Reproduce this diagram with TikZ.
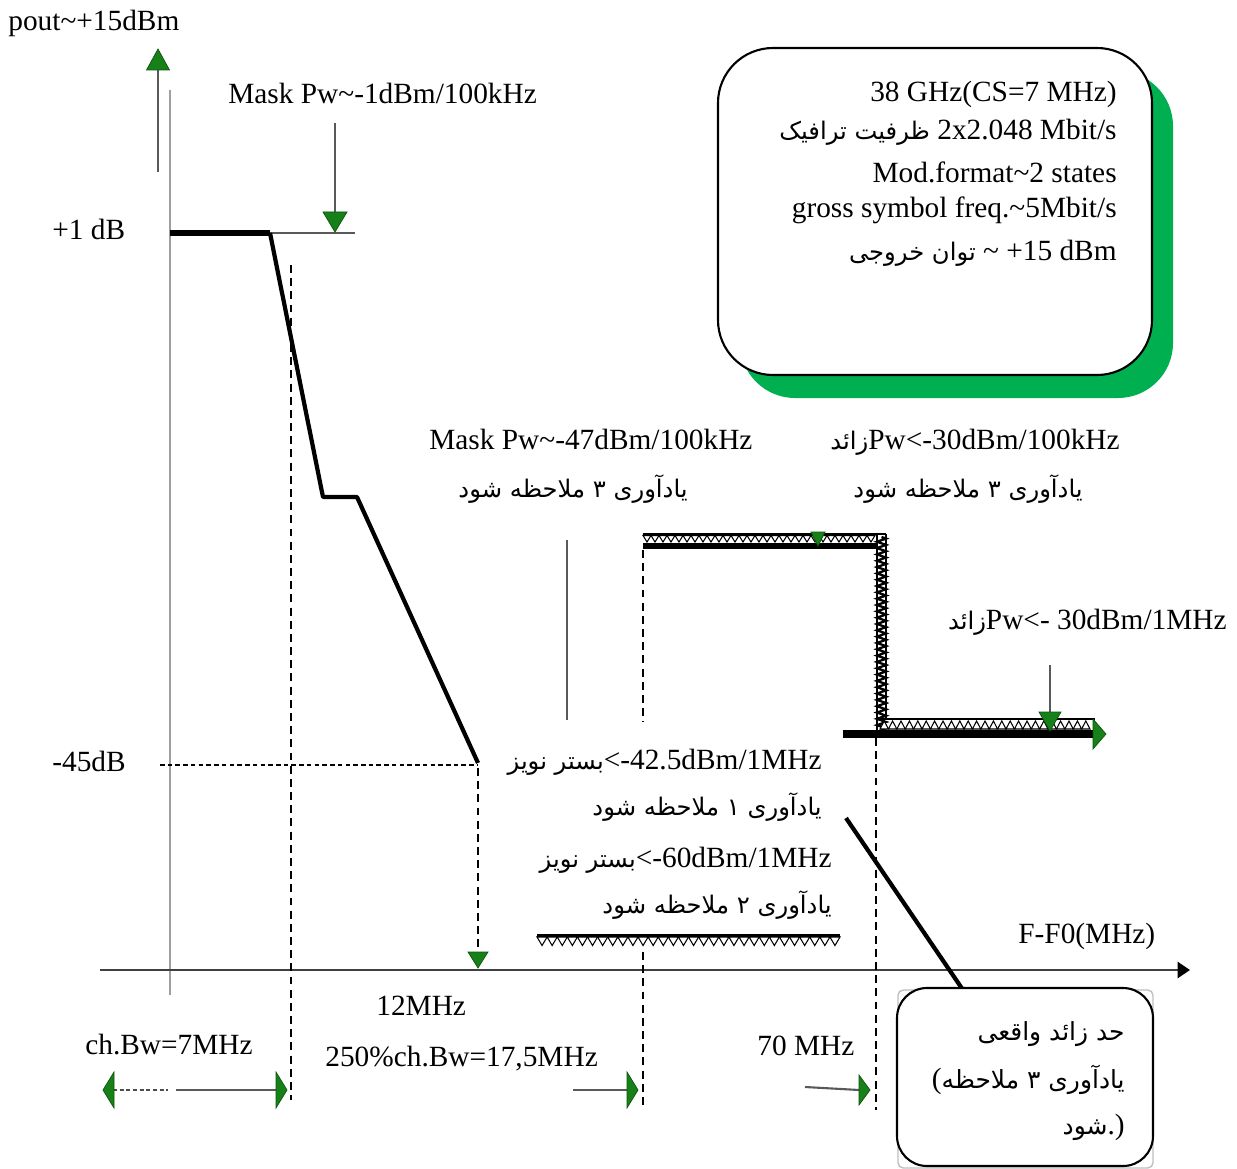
\documentclass[tikz,border=0pt]{standalone}
\usepackage{fontspec}
\setmainfont{Liberation Serif}
\newfontfamily\fa[Script=Arabic]{DejaVu Sans}
\TeXXeTstate=1
\usetikzlibrary{arrows.meta,decorations.pathmorphing}

\definecolor{mkgreen}{RGB}{24,128,24}
\definecolor{mkedge}{RGB}{10,85,10}
\definecolor{shadegreen}{RGB}{0,176,80}

\newcommand\latsize{\fontsize{16.7pt}{20pt}\selectfont}
\newcommand\fasize{\fontsize{13.8pt}{16pt}\selectfont}
\newcommand\fboxsize{\fontsize{14.2pt}{17pt}\selectfont}

% green triangular marker: tip position, rotation, base width, length
\newcommand\gtri[4]{%
  \begin{scope}[shift={#1},rotate=#2]
    \filldraw[fill=mkgreen,draw=mkedge,line width=0.4pt]
      (0,0) -- (-#3/2,-#4) -- (#3/2,-#4) -- cycle;
  \end{scope}}

\tikzset{
  lat/.style={font=\latsize,inner sep=0pt},
  fat/.style={font=\fa\fasize,inner sep=0pt},
  fbx/.style={font=\fa\fboxsize,inner sep=0pt},
  thinaxis/.style={draw=gray!75,line width=0.8pt},
  pointer/.style={draw=gray!70!black,line width=0.7pt},
  curve/.style={line width=2.4pt,line join=round},
  guide/.style={dash pattern=on 4.5pt off 3pt,line width=0.8pt},
  floorline/.style={dash pattern=on 2.6pt off 1.8pt,line width=1.1pt},
  xaxis/.style={draw=black!75,line width=1.6pt,-{Triangle[length=7pt,width=9pt,color=black]}},
  hatch/.style={line width=0.6pt,fill=white}
}

\begin{document}
\begin{tikzpicture}[x=0.02cm,y=-0.02cm]
\useasboundingbox (0,0) rectangle (1237,1169);

% ---- axes -------------------------------------------------------------
\coordinate (ytop) at (170,90);
\coordinate (ybot) at (170,995);
\draw[thinaxis] (ytop) -- (ybot);
\coordinate (xl) at (100,970);
\coordinate (xr) at (1190,970);
\draw[xaxis] (xl) -- (xr);

% output power arrow
\coordinate (pa0) at (158,172);
\coordinate (pa1) at (158,70);
\draw[pointer] (pa0) -- (pa1);
\gtri{(158,49)}{180}{23}{21}

% ---- spectrum mask curve ------------------------------------------------
\coordinate (c0) at (170,233);
\coordinate (c1) at (270,233);
\coordinate (c2) at (323,497);
\coordinate (c3) at (357,497);
\coordinate (c4) at (478,763);
\coordinate (c1r) at (355,233);
\draw[pointer] (c1) -- (c1r);
\draw[line width=3.4pt] (c0) -- (c1);
\draw[curve] (c1) -- (c2) -- (c3) -- (c4);

% +1 dB mask pointer
\coordinate (m0) at (335,123);
\coordinate (m1) at (335,213);
\draw[pointer] (m0) -- (m1);
\gtri{(335,232)}{0}{24}{20}

% -45 dB level
\coordinate (l45a) at (160,765);
\coordinate (l45b) at (478,765);
\draw[floorline] (l45a) -- (l45b);

% vertical guides
\draw[guide] (291,265) -- (291,1100);
\draw[guide] (478,768) -- (478,950);
\draw[guide] (643,550) -- (643,722);
\draw[guide] (643,952) -- (643,1110);
\draw[guide] (876,738) -- (876,1110);
\gtri{(478,968)}{0}{20}{16}

\coordinate (v0) at (567,540);
\coordinate (v1) at (567,720);
\draw[pointer] (v0) -- (v1);

% ---- spurious limits ----------------------------------------------------
% upper plateau
\draw[line width=0.9pt] (643,534) -- (886,534);
\foreach \i in {0,...,28}
  \draw[hatch] ({643+\i*8},535.5) -- ++(4,6.5) -- ++(4,-6.5) -- cycle;
\draw[line width=3.8pt] (643,546) -- (878,546);
\gtri{(818,546)}{0}{14}{14}
% falling edge
\draw[line width=1.2pt] (877,534) -- (877,733);
\draw[line width=1.3pt,decorate,decoration={zigzag,segment length=3.6pt,amplitude=2.6pt}]
  (881.5,537) -- (881.5,731);
\draw[line width=0.9pt] (886,534) -- (886,720);
% lower plateau
\coordinate (lp0) at (843,734);
\coordinate (lp1) at (1095,734);
\draw[line width=4.4pt] (lp0) -- (lp1);
\draw[line width=0.7pt] (880,719) -- (1095,719);
\foreach \i in {0,...,24}
  \draw[hatch] ({880+\i*8.4},729) -- ++(4.2,-8) -- ++(4.2,8) -- cycle;
\gtri{(1106,734)}{90}{30}{13}
\coordinate (sp0) at (1050,665);
\coordinate (sp1) at (1050,712);
\draw[pointer] (sp0) -- (sp1);
\gtri{(1050,731)}{0}{22}{19}

% noise floor bar
\draw[line width=1.6pt] (537,935.5) -- (840,935.5);
\foreach \i in {0,...,29}
  \draw[hatch] ({537+\i*10.1},937) -- ++(5.05,8.5) -- ++(5.05,-8.5) -- cycle;

% real spurious roll-off
\coordinate (r0) at (846,818);
\coordinate (r1) at (963,990);
\draw[curve] (r0) -- (r1);

% ---- bandwidth markers ----------------------------------------------------
\coordinate (b0) at (113,1090);
\coordinate (b1) at (168,1090);
\coordinate (b2) at (176,1090);
\coordinate (b3) at (276,1090);
\draw[draw=black!70,line width=1.6pt,dash pattern=on 2.2pt off 1.6pt] (b0) -- (b1);
\draw[pointer,line width=1.2pt] (b2) -- (b3);
\gtri{(103,1090)}{-90}{36}{11}
\gtri{(287,1090)}{90}{36}{11}
\coordinate (b4) at (573,1090);
\coordinate (b5) at (627,1090);
\draw[pointer,line width=1.2pt] (b4) -- (b5);
\gtri{(638,1090)}{90}{36}{11}
\coordinate (b6) at (805,1087);
\coordinate (b7) at (859,1090);
\draw[pointer,line width=1.2pt] (b6) -- (b7);
\gtri{(870,1090)}{90}{30}{11}

% ---- parameter box ------------------------------------------------------
\fill[shadegreen,rounded corners=1.1cm] (740,71) rectangle (1173,398);
\filldraw[fill=white,draw=black,line width=1.2pt,rounded corners=1.1cm]
  (718,48) rectangle (1152,375);
\node[lat,anchor=base east] (p1) at (1117,102) {38 GHz(CS=7 MHz)};
\node[lat,anchor=base east] (p2) at (1117,140)
  {{\fa\fasize\beginR ظرفیت ترافیک\endR} 2x2.048 Mbit/s};
\node[lat,anchor=base east] (p3) at (1117,183) {Mod.format\textasciitilde 2 states};
\node[lat,anchor=base east] (p4) at (1117,217) {gross symbol freq.\textasciitilde 5Mbit/s};
\node[lat,anchor=base east] (p5) at (1117,260)
  {{\fa\fasize\beginR توان خروجی\endR} \textasciitilde{} +15 dBm};

% ---- note box -------------------------------------------------------------
\draw[gray!50,line width=0.8pt,rounded corners=3pt] (898,990) rectangle (1153,1168);
\filldraw[fill=white,draw=black,line width=1.2pt,rounded corners=0.6cm]
  (897,988) rectangle (1153,1166);
\node[fbx,anchor=base east] (q1) at (1125,1040) {\beginR حد زائد واقعی\endR};
\node[fbx,anchor=base east] (q2) at (1125,1088)
  {{\rmfamily\latsize(}\beginR یادآوری ۳ ملاحظه\endR};
\node[fbx,anchor=base east] (q3) at (1125,1134)
  {\beginR شود\endR{\rmfamily\latsize.)}};

% ---- labels -----------------------------------------------------------------
\node[lat,anchor=base west] (tpout) at (8,31) {pout\textasciitilde+15dBm};
\node[lat,anchor=base west] (tmask1) at (228,104) {Mask Pw\textasciitilde-1dBm/100kHz};
\node[lat,anchor=base west] (tp1) at (52,239) {+1 dB};
\node[lat,anchor=base west] (tm45) at (52,771) {-45dB};
\node[lat,anchor=base west] (tmask2) at (429,449) {Mask Pw\textasciitilde-47dBm/100kHz};
\node[fat,anchor=base east] (tn1) at (688,497) {\beginR یادآوری ۳ ملاحظه شود\endR};
\node[lat,anchor=base east] (tsp1) at (1120,449)
  {{\fa\fasize\beginR زائد\endR}Pw<-30dBm/100kHz};
\node[fat,anchor=base east] (tn2) at (1083,497) {\beginR یادآوری ۳ ملاحظه شود\endR};
\node[lat,anchor=base east] (tsp2) at (1227,629)
  {{\fa\fasize\beginR زائد\endR}Pw<- 30dBm/1MHz};
\node[lat,anchor=base east] (tnf1) at (822,769)
  {{\fa\fasize\beginR بستر نویز\endR}<-42.5dBm/1MHz};
\node[fat,anchor=base east] (tn3) at (822,815) {\beginR یادآوری ۱ ملاحظه شود\endR};
\node[lat,anchor=base east] (tnf2) at (832,867)
  {{\fa\fasize\beginR بستر نویز\endR}<-60dBm/1MHz};
\node[fat,anchor=base east] (tn4) at (832,913) {\beginR یادآوری ۲ ملاحظه شود\endR};
\node[lat,anchor=base west] (tff) at (1018,943) {F-F0(MHz)};
\node[lat,anchor=base west] (t12) at (376,1015) {12MHz};
\node[lat,anchor=base west] (tbw) at (85,1054) {ch.Bw=7MHz};
\node[lat,anchor=base west] (tbw2) at (325,1066) {250\%ch.Bw=17,5MHz};
\node[lat,anchor=base west] (t70) at (757,1055) {70 MHz};
\end{tikzpicture}
\end{document}
